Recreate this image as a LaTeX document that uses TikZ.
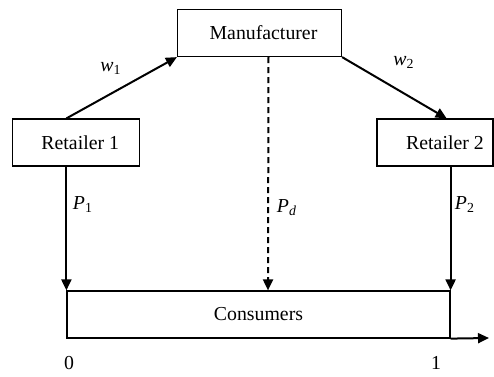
\documentclass[tikz,border=0pt]{standalone}
\usepackage{fontspec}
\setmainfont{Liberation Serif}
\usetikzlibrary{arrows.meta}
\tikzset{
  box/.style={draw, line width=0.6pt, rectangle, inner sep=0pt, font=\fontsize{9.9}{12}\selectfont},
  flow/.style={line width=1pt, -{Triangle[length=5.5pt,width=5pt]}},
  dflow/.style={flow, dash pattern=on 3pt off 2pt},
  lab/.style={font=\fontsize{9.9}{12}\selectfont, inner sep=0pt}
}
\begin{document}
\begin{tikzpicture}[x=0.5pt,y=-0.5pt]
\useasboundingbox (0,0) rectangle (494,376);
% boxes
\node[box, minimum width=82pt, minimum height=23.5pt] (man) at (259.5,33) {\hspace*{4pt}Manufacturer};
\node[box, minimum width=63.5pt, minimum height=23.5pt] (r1) at (76.25,142.5) {\hspace*{4pt}Retailer 1};
\node[box, minimum width=58pt, minimum height=23.5pt] (r2) at (435,142.5) {\hspace*{10pt}Retailer 2};
\node[box, minimum width=191.5pt, minimum height=23.5pt] (cons) at (258.5,314.5) {Consumers};
\coordinate (out) at (489,338);
% wholesale prices
\draw[flow] (r1.north -| cons.west) -- (man.south west);
\draw[flow] (man.south east) -- ([xshift=-2pt]r2.north -| cons.east);
% retail and direct prices
\draw[flow] (r1.south -| cons.west) -- (cons.north west);
\draw[flow] (r2.south -| cons.east) -- (cons.north east);
\draw[dflow] ([xshift=4.5pt]man.south) -- ([xshift=4.75pt]cons.north);
\draw[flow] (cons.south east) -- (out);
% labels
\node[lab] (lw1) at (111,68) {\textit{w}\textsubscript{1}};
\node[lab] (lw2) at (404,62) {\textit{w}\textsubscript{2}};
\node[lab] (lp1) at (83,205) {\textit{P}\textsubscript{1}};
\node[lab] (lpd) at (287,208) {\textit{P}\textsubscript{\textit{d}}};
\node[lab] (lp2) at (465,205) {\textit{P}\textsubscript{2}};
\node[lab] (l0) at (69,363) {0};
\node[lab] (l1) at (436,363) {1};
\end{tikzpicture}
\end{document}
